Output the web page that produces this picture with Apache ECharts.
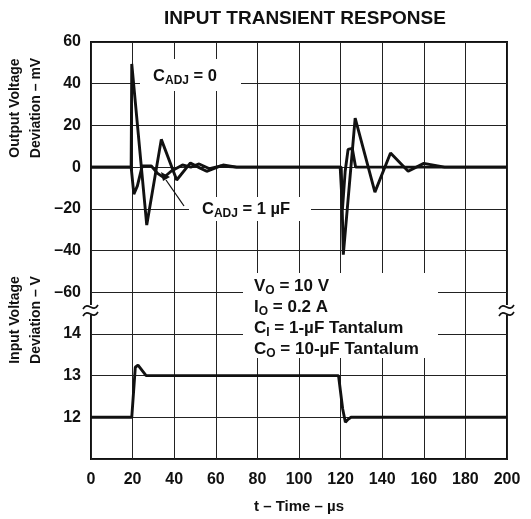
<!DOCTYPE html>
<html>
<head>
<meta charset="utf-8">
<script src="https://cdn.jsdelivr.net/npm/echarts@6/dist/echarts.min.js"></script>
<style>
  html, body { margin: 0; padding: 0; background: #fff; }
  #chart { width: 531px; height: 519px; }
</style>
</head>
<body>
<div id="chart"></div>
<script>
// time axis ticks (µs)
const timeTicks = [0, 20, 40, 60, 80, 100, 120, 140, 160, 180, 200];

// output deviation, C_ADJ = 0 (mV)
const cadj0Time = [0, 19.3, 19.6, 26.8, 33.8, 41.2, 47.8, 52.5, 55.6, 63.5, 70, 120.3, 121.3, 127, 136.5, 144, 152.5, 160, 170, 200];
const cadj0Vals = [0, 0, 49.5, -27.8, 13.3, -6.2, 2, -0.5, -2, 1, 0, 0, -42, 23.5, -12, 6.8, -2, 1.8, 0, 0];

// output deviation, C_ADJ = 1 uF (mV)
const cadj1Time = [0, 19.3, 20.6, 22.3, 24.6, 29, 32, 35, 38.5, 44, 48, 52, 57, 62, 70, 119.8, 120.9, 122.2, 123.6, 125.6, 127.2, 200];
const cadj1Vals = [0, 0, -13, -9, 0.5, 0.5, -3, -5, -2, 1, 0, 1.5, -0.8, 0.5, 0, 0, -20, -2, 8.5, 9, 0, 0];

// input voltage (V)
const inputTime = [0, 19.6, 21.3, 22.6, 26.5, 119, 121, 122.3, 123.6, 125, 200];
const inputVals = [12, 12, 13.2, 13.25, 13, 13, 12.2, 11.88, 11.95, 12, 12];

const mvLabels = [60, 40, 20, 0, -20, -40, -60];
const voltLabels = [12, 13, 14];

const FONT = "'Liberation Sans', Arial, sans-serif";
const pairs = (xs, ys) => xs.map((x, i) => [x, ys[i]]);

const chart = echarts.init(document.getElementById("chart"));

const lineSeries = (name, xs, ys, axis) => ({
  name,
  type: "line",
  yAxisIndex: axis,
  data: pairs(xs, ys),
  showSymbol: false,
  symbol: "none",
  animation: false,
  lineStyle: { color: "#111", width: 2.9 },
  z: 5,
});

const tickFont = { color: "#111", fontFamily: FONT, fontSize: 16, fontWeight: "bold" };
const richText = (size) => ({
  c: { fontFamily: FONT, fontSize: size, fontWeight: "bold", fill: "#111", lineHeight: 21 },
  s: { fontFamily: FONT, fontSize: 12, fontWeight: "bold", fill: "#111", lineHeight: 12, verticalAlign: "bottom" },
});

chart.setOption({
  animation: false,
  title: {
    text: "INPUT TRANSIENT RESPONSE",
    left: 300,
    top: 4,
    textAlign: "center",
    textStyle: { fontFamily: FONT, fontSize: 19, fontWeight: "bold", color: "#111" },
  },
  grid: {
    left: 91, right: 24, top: 42, bottom: 59,
    show: true, borderColor: "#111", borderWidth: 2,
  },
  xAxis: {
    type: "value",
    min: 0, max: 200, interval: 20,
    axisLine: { show: false },
    axisTick: { show: false },
    axisLabel: Object.assign({ margin: 13, formatter: (v) => (timeTicks.includes(v) ? String(v) : "") }, tickFont),
    splitLine: { show: true, lineStyle: { color: "#222", width: 1 } },
    name: "t – Time – µs",
    nameLocation: "middle",
    nameGap: 40,
    nameTextStyle: { fontFamily: FONT, fontSize: 15, fontWeight: "bold", color: "#111" },
  },
  yAxis: [
    {
      type: "value",
      min: -140, max: 60, interval: 20,
      axisLine: { show: false },
      axisTick: { show: false },
      axisLabel: Object.assign({
        margin: 10,
        formatter: (v) => (mvLabels.includes(v) ? String(v).replace("-", "–") : ""),
      }, tickFont),
      splitLine: { show: true, lineStyle: { color: "#222", width: 1 } },
    },
    {
      type: "value",
      position: "left",
      min: 11, max: 21, interval: 1,
      axisLine: { show: false },
      axisTick: { show: false },
      axisLabel: Object.assign({
        margin: 10,
        formatter: (v) => (voltLabels.includes(v) ? String(v) : ""),
      }, tickFont),
      splitLine: { show: false },
    },
  ],
  series: [
    lineSeries("C_ADJ = 0", cadj0Time, cadj0Vals, 0),
    lineSeries("C_ADJ = 1 uF", cadj1Time, cadj1Vals, 0),
    lineSeries("Input", inputTime, inputVals, 1),
  ],
  graphic: [
    // axis titles
    {
      type: "text", x: 26, y: 108, rotation: Math.PI / 2,
      style: {
        text: "Output Voltage\nDeviation – mV",
        fontFamily: FONT, fontSize: 14, fontWeight: "bold", fill: "#111",
        align: "center", verticalAlign: "middle", lineHeight: 21,
      },
    },
    {
      type: "text", x: 26, y: 320, rotation: Math.PI / 2,
      style: {
        text: "Input Voltage\nDeviation – V",
        fontFamily: FONT, fontSize: 14, fontWeight: "bold", fill: "#111",
        align: "center", verticalAlign: "middle", lineHeight: 21,
      },
    },
    // C_ADJ = 0 label
    { type: "rect", shape: { x: 140, y: 59, width: 101, height: 32 }, style: { fill: "#fff" }, z: 10 },
    {
      type: "text", x: 185, y: 76, z: 11,
      style: { text: "{c|C}{s|ADJ}{c| = 0}", align: "center", verticalAlign: "middle", rich: richText(16.5) },
    },
    // C_ADJ = 1 uF label with leader
    { type: "rect", shape: { x: 189, y: 197, width: 122, height: 24 }, style: { fill: "#fff" }, z: 10 },
    {
      type: "text", x: 246, y: 209, z: 11,
      style: { text: "{c|C}{s|ADJ}{c| = 1 µF}", align: "center", verticalAlign: "middle", rich: richText(16.5) },
    },
    { type: "line", shape: { x1: 184, y1: 206, x2: 166, y2: 180 }, style: { stroke: "#111", lineWidth: 1.3 }, z: 11 },
    { type: "polygon", shape: { points: [[161, 172], [170, 177], [163, 181]] }, style: { fill: "#111" }, z: 11 },
    // conditions box
    { type: "rect", shape: { x: 243, y: 273, width: 195, height: 85 }, style: { fill: "#fff" }, z: 10 },
    {
      type: "text", x: 254, y: 276, z: 11,
      style: {
        text: "{c|V}{s|O}{c| = 10 V}\n{c|I}{s|O}{c| = 0.2 A}\n{c|C}{s|I}{c| = 1-µF Tantalum}\n{c|C}{s|O}{c| = 10-µF Tantalum}",
        align: "left", verticalAlign: "top", rich: richText(17),
      },
    },
    // axis break marks
    { type: "rect", shape: { x: 88, y: 305, width: 7, height: 10 }, style: { fill: "#fff" }, z: 10 },
    { type: "bezierCurve", shape: { x1: 83, y1: 309, x2: 98, y2: 305, cpx1: 88, cpy1: 300, cpx2: 93, cpy2: 314 }, style: { stroke: "#111", lineWidth: 1.6, fill: null }, z: 11 },
    { type: "bezierCurve", shape: { x1: 83, y1: 316, x2: 98, y2: 312, cpx1: 88, cpy1: 307, cpx2: 93, cpy2: 321 }, style: { stroke: "#111", lineWidth: 1.6, fill: null }, z: 11 },
    { type: "rect", shape: { x: 504, y: 305, width: 7, height: 10 }, style: { fill: "#fff" }, z: 10 },
    { type: "bezierCurve", shape: { x1: 499, y1: 309, x2: 514, y2: 305, cpx1: 504, cpy1: 300, cpx2: 509, cpy2: 314 }, style: { stroke: "#111", lineWidth: 1.6, fill: null }, z: 11 },
    { type: "bezierCurve", shape: { x1: 499, y1: 316, x2: 514, y2: 312, cpx1: 504, cpy1: 307, cpx2: 509, cpy2: 321 }, style: { stroke: "#111", lineWidth: 1.6, fill: null }, z: 11 },
  ],
});

window.addEventListener("resize", () => chart.resize());
</script>
</body>
</html>
